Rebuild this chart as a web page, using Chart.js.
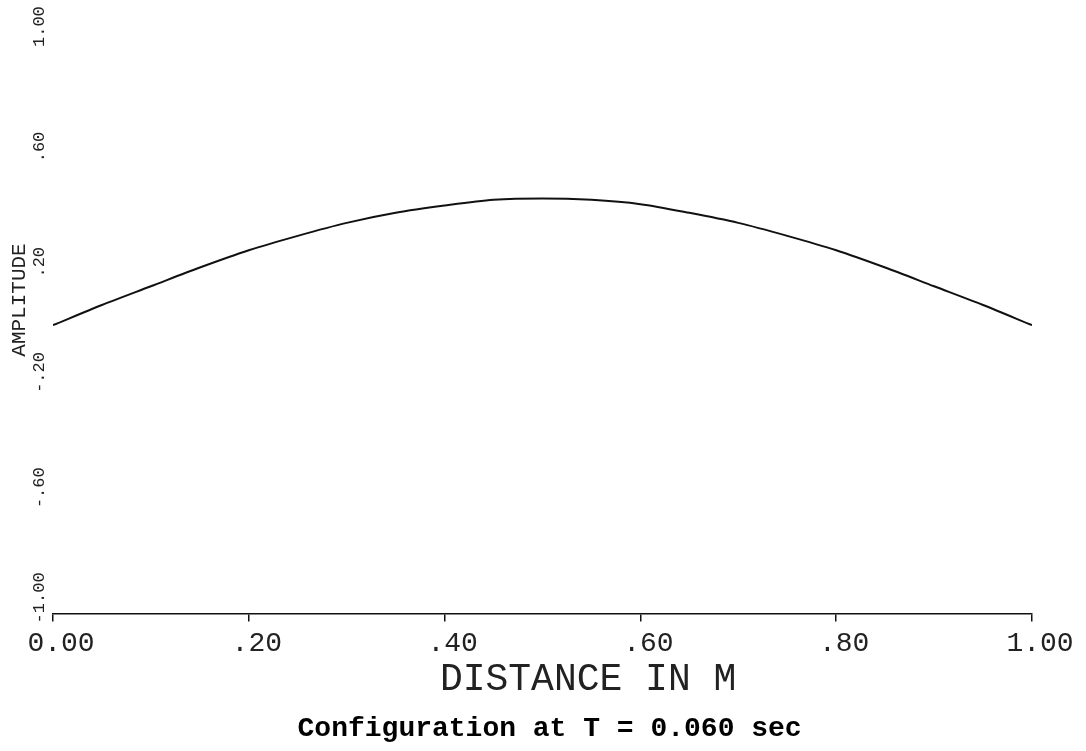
<!DOCTYPE html>
<html>
<head>
<meta charset="utf-8">
<script src="https://cdn.jsdelivr.net/npm/chart.js@4.4.1/dist/chart.umd.min.js"></script>
<style>
  html, body { margin: 0; padding: 0; background: #fff; }
  canvas { display: block; }
</style>
</head>
<body>
<canvas id="configChart" width="1086" height="751"></canvas>
<script>
// distance along the string (m) and amplitude
var distance = [0.00, 0.05, 0.10, 0.15, 0.20, 0.25, 0.30, 0.35, 0.40, 0.45, 0.50,
                0.55, 0.60, 0.65, 0.70, 0.75, 0.80, 0.85, 0.90, 0.95, 1.00];
var amplitude = [0.00, 0.07, 0.135, 0.20, 0.26, 0.31, 0.355, 0.39, 0.415, 0.435, 0.44,
                 0.435, 0.42, 0.39, 0.355, 0.31, 0.26, 0.20, 0.135, 0.07, 0.00];
var xTickValues = [0, 0.2, 0.4, 0.6, 0.8, 1.0];
var yTickValues = [-1.0, -0.6, -0.2, 0.2, 0.6, 1.0];

// leading spaces nudge the centred texts to where the plotter put them
var captionText = '    Configuration at T = 0.060 sec';

// old plotter style: ".20", "-.60", "1.00"
function plotterLabel(v) {
  var s = Math.abs(v).toFixed(2);
  if (s !== '0.00' && s.charAt(0) === '0') s = s.slice(1);
  return (v < -1e-9 ? '-' : '') + s;
}

var points = distance.map(function (d, i) { return { x: d, y: amplitude[i] }; });

var ctx = document.getElementById('configChart').getContext('2d');
var configChart = new Chart(ctx, {
  type: 'line',
  data: {
    datasets: [{
      data: points,
      borderColor: '#111',
      borderWidth: 2,
      pointRadius: 0,
      tension: 0.3,
      fill: false
    }]
  },
  options: {
    responsive: false,
    animation: false,
    layout: { padding: { top: 37, right: 54, left: 0, bottom: 0 } },
    plugins: {
      legend: { display: false },
      tooltip: { enabled: false },
      title: {
        display: true,
        position: 'bottom',
        text: captionText,
        color: '#000',
        font: { family: 'Liberation Mono', size: 28, weight: 'bold' },
        padding: { top: 9, bottom: 5 }
      }
    },
    scales: {
      x: {
        type: 'linear',
        min: 0,
        max: 1,
        afterBuildTicks: function (scale) {
          scale.ticks = xTickValues.map(function (v) { return { value: v }; });
        },
        afterFit: function (scale) { scale.height = 90; },
        border: { display: true, color: '#111', width: 1.5 },
        grid: { display: true, drawOnChartArea: false, drawTicks: true, tickLength: 8, color: '#111', lineWidth: 1.5 },
        ticks: {
          padding: 5,
          labelOffset: 8,
          maxRotation: 0,
          color: '#222',
          font: { family: 'Liberation Mono', size: 28 },
          callback: function (v) { return plotterLabel(v); }
        },
        title: {
          display: true,
          text: '    DISTANCE IN M',
          color: '#222',
          font: { family: 'Liberation Mono', size: 38 },
          padding: { top: 0, bottom: 1 }
        }
      },
      y: {
        type: 'linear',
        min: -1,
        max: 1,
        afterBuildTicks: function (scale) {
          scale.ticks = yTickValues.map(function (v) { return { value: v }; });
        },
        afterFit: function (scale) { scale.width = 53; },
        border: { display: false },
        grid: { display: false, drawTicks: false },
        ticks: {
          mirror: true,
          padding: -14,
          crossAlign: 'near',
          minRotation: 90,
          maxRotation: 90,
          labelOffset: 10,
          color: '#222',
          font: { family: 'Liberation Mono', size: 17 },
          callback: function (v) { return plotterLabel(v); }
        },
        title: {
          display: true,
          text: '    AMPLITUDE',
          color: '#222',
          font: { family: 'Liberation Mono', size: 21 },
          padding: { top: 7, bottom: 0 }
        }
      }
    }
  }
});
</script>
</body>
</html>
